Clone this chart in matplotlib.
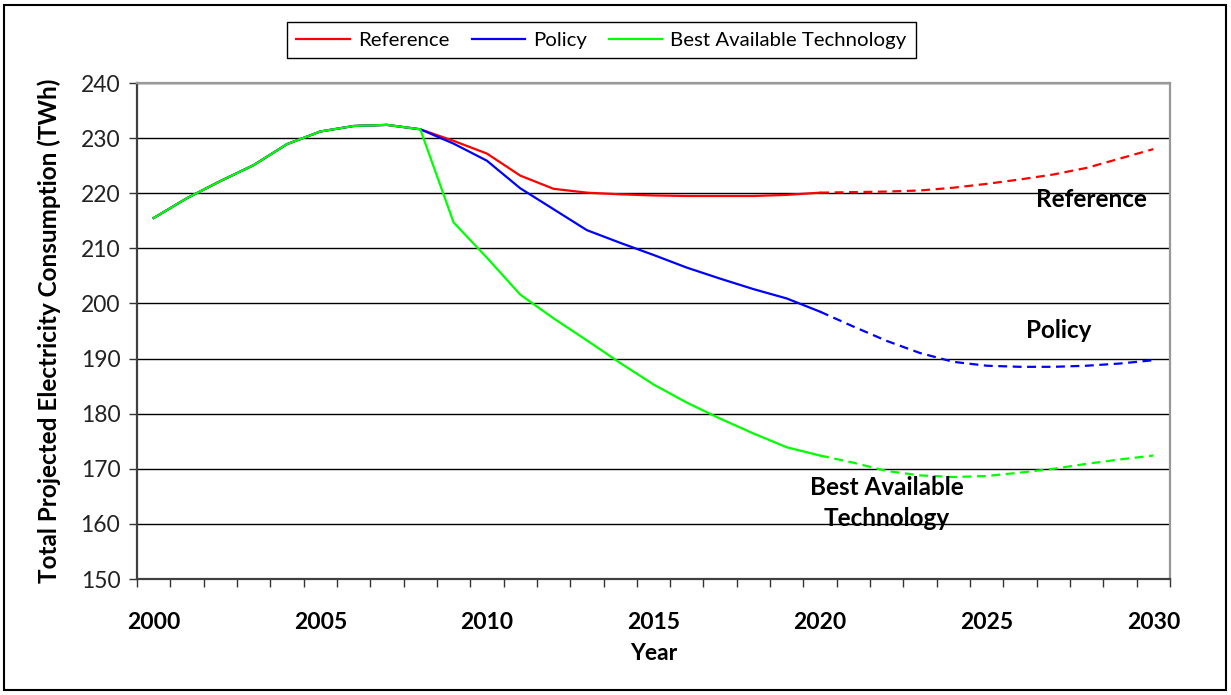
import matplotlib
matplotlib.use('Agg')
import matplotlib.pyplot as plt
from matplotlib.patches import Rectangle
from matplotlib.lines import Line2D

plt.rcParams['font.family'] = ['Lato', 'DejaVu Sans']

# Data
years = list(range(2000, 2031))
reference = [215.5, 219.1, 222.2, 225.1, 228.9, 231.2, 232.2, 232.4, 231.6, 229.5,
             227.2, 223.2, 220.8, 220.1, 219.8, 219.6, 219.5, 219.5, 219.5, 219.7,
             220.1, 220.2, 220.3, 220.5, 221.0, 221.7, 222.5, 223.4, 224.6, 226.3, 228.0]
policy = [215.5, 219.1, 222.2, 225.1, 228.9, 231.2, 232.2, 232.4, 231.6, 229.0,
          225.9, 220.9, 217.1, 213.3, 211.0, 208.8, 206.5, 204.5, 202.6, 200.9,
          198.5, 195.8, 193.2, 191.0, 189.4, 188.7, 188.5, 188.5, 188.7, 189.1, 189.7]
best_tech = [215.5, 219.1, 222.2, 225.1, 228.9, 231.2, 232.2, 232.4, 231.6, 214.7,
             208.3, 201.6, 197.3, 193.3, 189.2, 185.3, 182.0, 179.1, 176.4, 173.9,
             172.4, 171.1, 169.6, 168.8, 168.5, 168.7, 169.3, 170.0, 170.9, 171.7, 172.4]
series_names = ['Reference', 'Policy', 'Best Available Technology']
series_colors = ['#ff0000', '#0000ff', '#00ff00']
last_actual = 2020  # solid up to here, dashed afterwards

fig = plt.figure(figsize=(12.31, 6.95), dpi=100)
ax = fig.add_axes([137 / 1231, 1 - 579 / 695, (1170 - 137) / 1231, (579 - 83) / 695])

split = years.index(last_actual)
for vals, color in zip([reference, policy, best_tech], series_colors):
    ax.plot(years[:split + 1], vals[:split + 1], color=color, lw=1.6, solid_joinstyle='round')
    ax.plot(years[split:], vals[split:], color=color, lw=1.6, linestyle=(0, (4, 2.5)))

# axes and grid
ax.set_xlim(1999.5, 2030.5)
ax.set_ylim(150, 240)
ax.set_yticks(range(150, 241, 10))
ax.yaxis.grid(True, color='black', lw=1)
ax.set_axisbelow(True)
ax.set_xticks(range(2000, 2031, 5))
ax.set_xticks([y + 0.5 for y in range(1999, 2031)], minor=True)
ax.tick_params(axis='x', which='major', length=0, pad=24, labelsize=16.5)
ax.tick_params(axis='x', which='minor', length=6, width=1, color='#333333', direction='out')
ax.tick_params(axis='y', length=6, width=1, color='#333333', direction='out', labelsize=16.5, pad=6)
for lbl in ax.get_xticklabels():
    lbl.set_fontweight('bold')
for lbl in ax.get_yticklabels():
    lbl.set_color('#222222')
ax.spines['left'].set_color('#404040')
ax.spines['left'].set_linewidth(1.6)
ax.spines['bottom'].set_color('#404040')
ax.spines['bottom'].set_linewidth(1.6)
ax.spines['top'].set_color('#999999')
ax.spines['top'].set_linewidth(1.6)
ax.spines['right'].set_color('#999999')
ax.spines['right'].set_linewidth(1.6)

ax.set_xlabel('Year', fontsize=16.5, fontweight='bold', labelpad=7)
ax.set_ylabel('Total Projected Electricity Consumption (TWh)', fontsize=17.5,
              fontweight='bold', labelpad=14)

# labels next to the lines
ax.text(2028.15, 218.9, 'Reference', fontsize=17.5, fontweight='bold', ha='center', va='center')
ax.text(2027.15, 195.1, 'Policy', fontsize=17.5, fontweight='bold', ha='center', va='center')
ax.text(2022.0, 163.8, 'Best Available\nTechnology', fontsize=17.5, fontweight='bold',
        ha='center', va='center', linespacing=1.4)

# legend
handles = [Line2D([0], [0], color=c, lw=1.6) for c in series_colors]
leg = fig.legend(handles, series_names, loc='center', ncol=3,
                 bbox_to_anchor=((288 + 915) / 2 / 1231, 1 - 40 / 695),
                 fontsize=14.7, frameon=True, fancybox=False, framealpha=1,
                 edgecolor='black', handlelength=2.6, columnspacing=1.1,
                 handletextpad=0.4, borderpad=0.45)
leg.get_frame().set_linewidth(1.0)

# outer border
fig.patches.append(Rectangle((4 / 1231, 5 / 695), 1 - 9 / 1231, 1 - 10 / 695,
                             transform=fig.transFigure, fill=False,
                             edgecolor='black', lw=1.5))

fig.savefig('out.png', dpi=100)
